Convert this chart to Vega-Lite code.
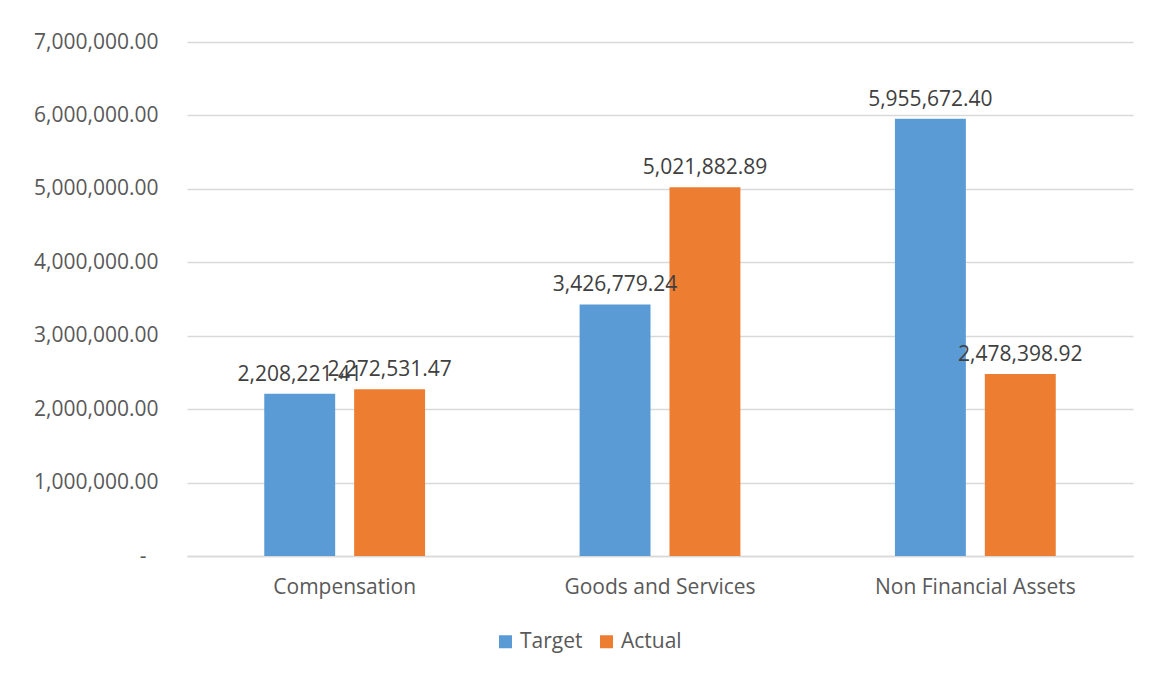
{
  "$schema": "https://vega.github.io/schema/vega-lite/v6.json",
  "width": 946,
  "height": 514,
  "autosize": {"type": "none"},
  "padding": {"left": 187, "top": 42, "right": 19, "bottom": 119},
  "background": "white",
  "config": {
    "view": {"stroke": null},
    "font": "Open Sans",
    "axis": {"labelFont": "Open Sans", "labelColor": "#595959", "labelFontSize": 21},
    "legend": {"labelFont": "Open Sans", "labelColor": "#595959", "labelFontSize": 21}
  },
  "data": {
    "values": [
      {"category": "Compensation", "series": "Target", "value": 2208221.41},
      {"category": "Compensation", "series": "Actual", "value": 2272531.47},
      {"category": "Goods and Services", "series": "Target", "value": 3426779.24},
      {"category": "Goods and Services", "series": "Actual", "value": 5021882.89},
      {"category": "Non Financial Assets", "series": "Target", "value": 5955672.40},
      {"category": "Non Financial Assets", "series": "Actual", "value": 2478398.92}
    ]
  },
  "encoding": {
    "x": {
      "field": "category", "type": "nominal", "sort": null,
      "scale": {"paddingInner": 0.49, "paddingOuter": 0.245},
      "axis": {"title": null, "labelAngle": 0, "ticks": false, "domainColor": "#d9d9d9", "domainWidth": 1.5, "labelPadding": 20, "labelBaseline": "top", "labelLimit": 0, "labelOverlap": false}
    },
    "xOffset": {
      "field": "series", "type": "nominal", "sort": ["Target", "Actual"],
      "scale": {"paddingInner": 0.211, "paddingOuter": 0}
    },
    "y": {
      "field": "value", "type": "quantitative",
      "scale": {"domain": [0, 7000000], "nice": false},
      "axis": {
        "title": null, "domain": false, "ticks": false,
        "values": [0, 1000000, 2000000, 3000000, 4000000, 5000000, 6000000, 7000000],
        "labelOverlap": false, "labelLimit": 0,
        "gridColor": "#d9d9d9", "gridWidth": 1.5,
        "labelPadding": {"condition": {"test": "datum.value == 0", "value": 41}, "value": 29},
        "labelExpr": "datum.value == 0 ? '-' : format(datum.value, ',.2f')"
      }
    }
  },
  "layer": [
    {
      "mark": {"type": "bar"},
      "encoding": {
        "color": {
          "field": "series", "type": "nominal",
          "scale": {"domain": ["Target", "Actual"], "range": ["#5B9BD5", "#ED7D31"]},
          "legend": {
            "title": null, "orient": "none", "direction": "horizontal",
            "legendX": 308, "legendY": 589, "symbolType": "square", "symbolSize": 169,
            "symbolStrokeWidth": 0, "columnPadding": 13, "labelOffset": 4
          }
        }
      }
    },
    {
      "mark": {"type": "text", "baseline": "bottom", "dy": -9, "fontSize": 21, "color": "#404040"},
      "encoding": {
        "text": {"field": "value", "type": "quantitative", "format": ",.2f"}
      }
    }
  ]
}
